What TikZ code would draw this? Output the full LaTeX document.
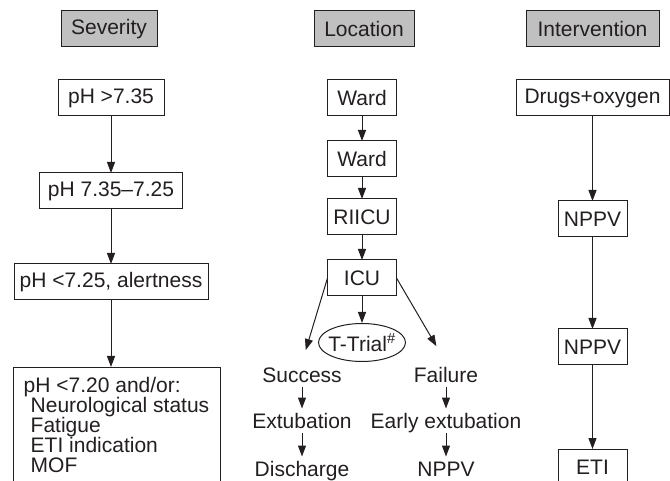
\documentclass[tikz,border=0pt]{standalone}
\usepackage{fontspec}
\setmainfont{Liberation Sans}
\usetikzlibrary{positioning}
\usetikzlibrary{arrows.meta}
\usetikzlibrary{shapes.geometric}
\definecolor{ink}{RGB}{35,31,32}
\definecolor{hdrgray}{RGB}{192,192,192}
\def\indline#1{\hspace*{7pt}#1}

\begin{document}
\begin{tikzpicture}[x=1pt,y=-1pt,>={Triangle[length=11pt,width=8pt]},line width=1pt,color=ink,font=\fontsize{21}{20}\selectfont,
	hdr/.style={minimum height=36pt,outer sep=0pt,inner sep=3pt,draw=ink,fill=hdrgray},
	box/.style={minimum height=36pt,outer sep=0pt,inner sep=3pt,draw=ink,fill=white},
	lbl/.style={text height=15pt,text depth=0pt,inner sep=4pt}]
	\clip (0,0) rectangle (670,481);

	% column headers
	\node [hdr,minimum width=96pt] at (109,29) (sev) {Severity};
	\node [hdr,minimum width=100pt] at (364,29) (loc) {Location};
	\node [hdr,minimum width=133pt] at (592.5,29) (int) {Intervention};

	% severity
	\node [box,minimum width=106pt] at (111,98) (ph1) {pH >7.35};
	\node [box,minimum width=143pt,below=57pt of ph1] (ph2) {pH 7.35–7.25};
	\node [box,minimum width=194pt,below=55pt of ph2] (ph3) {pH <7.25, alertness};
	\node [box,minimum width=207pt,align=left,anchor=north west,inner xsep=9pt,inner ysep=10pt] at (13,367) (ph4) {pH <7.20 and/or:\\\indline{Neurological status}\\\indline{Fatigue}\\\indline{ETI indication}\\\indline{MOF}\\\mbox{}};

	\draw [->] (ph1.south) -- (ph2.north);
	\draw [->] (ph2.south) -- (ph3.north);
	\draw [->] (ph3.south) -- (ph3.south |- ph4.north);

	% location
	\node [box,minimum width=69pt] at (362,98) (ward1) {Ward};
	\node [box,minimum width=69pt,below=25pt of ward1] (ward2) {Ward};
	\node [box,minimum width=69pt,below=22pt of ward2] (riicu) {RIICU};
	\node [box,minimum width=69pt,below=25pt of riicu] (icu) {ICU};
	\node [ellipse,draw=ink,minimum width=87pt,minimum height=38pt,inner sep=0pt,below=27pt of icu] (ttrial) {\makebox[50pt]{T-Trial\textsuperscript{\#}}};

	\node [lbl,anchor=base] at (302,382) (succ) {Success};
	\node [lbl,below=22pt of succ] (extub) {Extubation};
	\node [lbl,below=24pt of extub] (disch) {Discharge};
	\node [lbl,anchor=base] at (446,382) (fail) {Failure};
	\node [lbl,below=22pt of fail] (early) {Early extubation};
	\node [lbl,below=24pt of early] (nppvf) {NPPV};

	\draw [->] (ward1) -- (ward2);
	\draw [->] (ward2) -- (riicu);
	\draw [->] (riicu) -- (icu);
	\draw [->] (icu) -- (ttrial);
	\draw [->,shorten >=13pt] (icu.west) -- (succ.north);
	\draw [->,shorten >=19pt] (icu.east) -- (fail.north);
	\draw [->] (succ) -- (extub);
	\draw [->] (extub) -- (disch);
	\draw [->] (fail) -- (early);
	\draw [->] (early) -- (nppvf);

	% intervention
	\node [box,minimum width=153pt] at (592.5,98) (drugs) {Drugs+oxygen};
	\node [box,minimum width=69pt,below=85pt of drugs] (nppv1) {NPPV};
	\node [box,minimum width=69pt,below=92pt of nppv1] (nppv2) {NPPV};
	\node [box,minimum width=69pt,below=84pt of nppv2] (eti) {ETI};

	\draw [->] (drugs) -- (nppv1);
	\draw [->] (nppv1) -- (nppv2);
	\draw [->] (nppv2) -- (eti);
\end{tikzpicture}
\end{document}
